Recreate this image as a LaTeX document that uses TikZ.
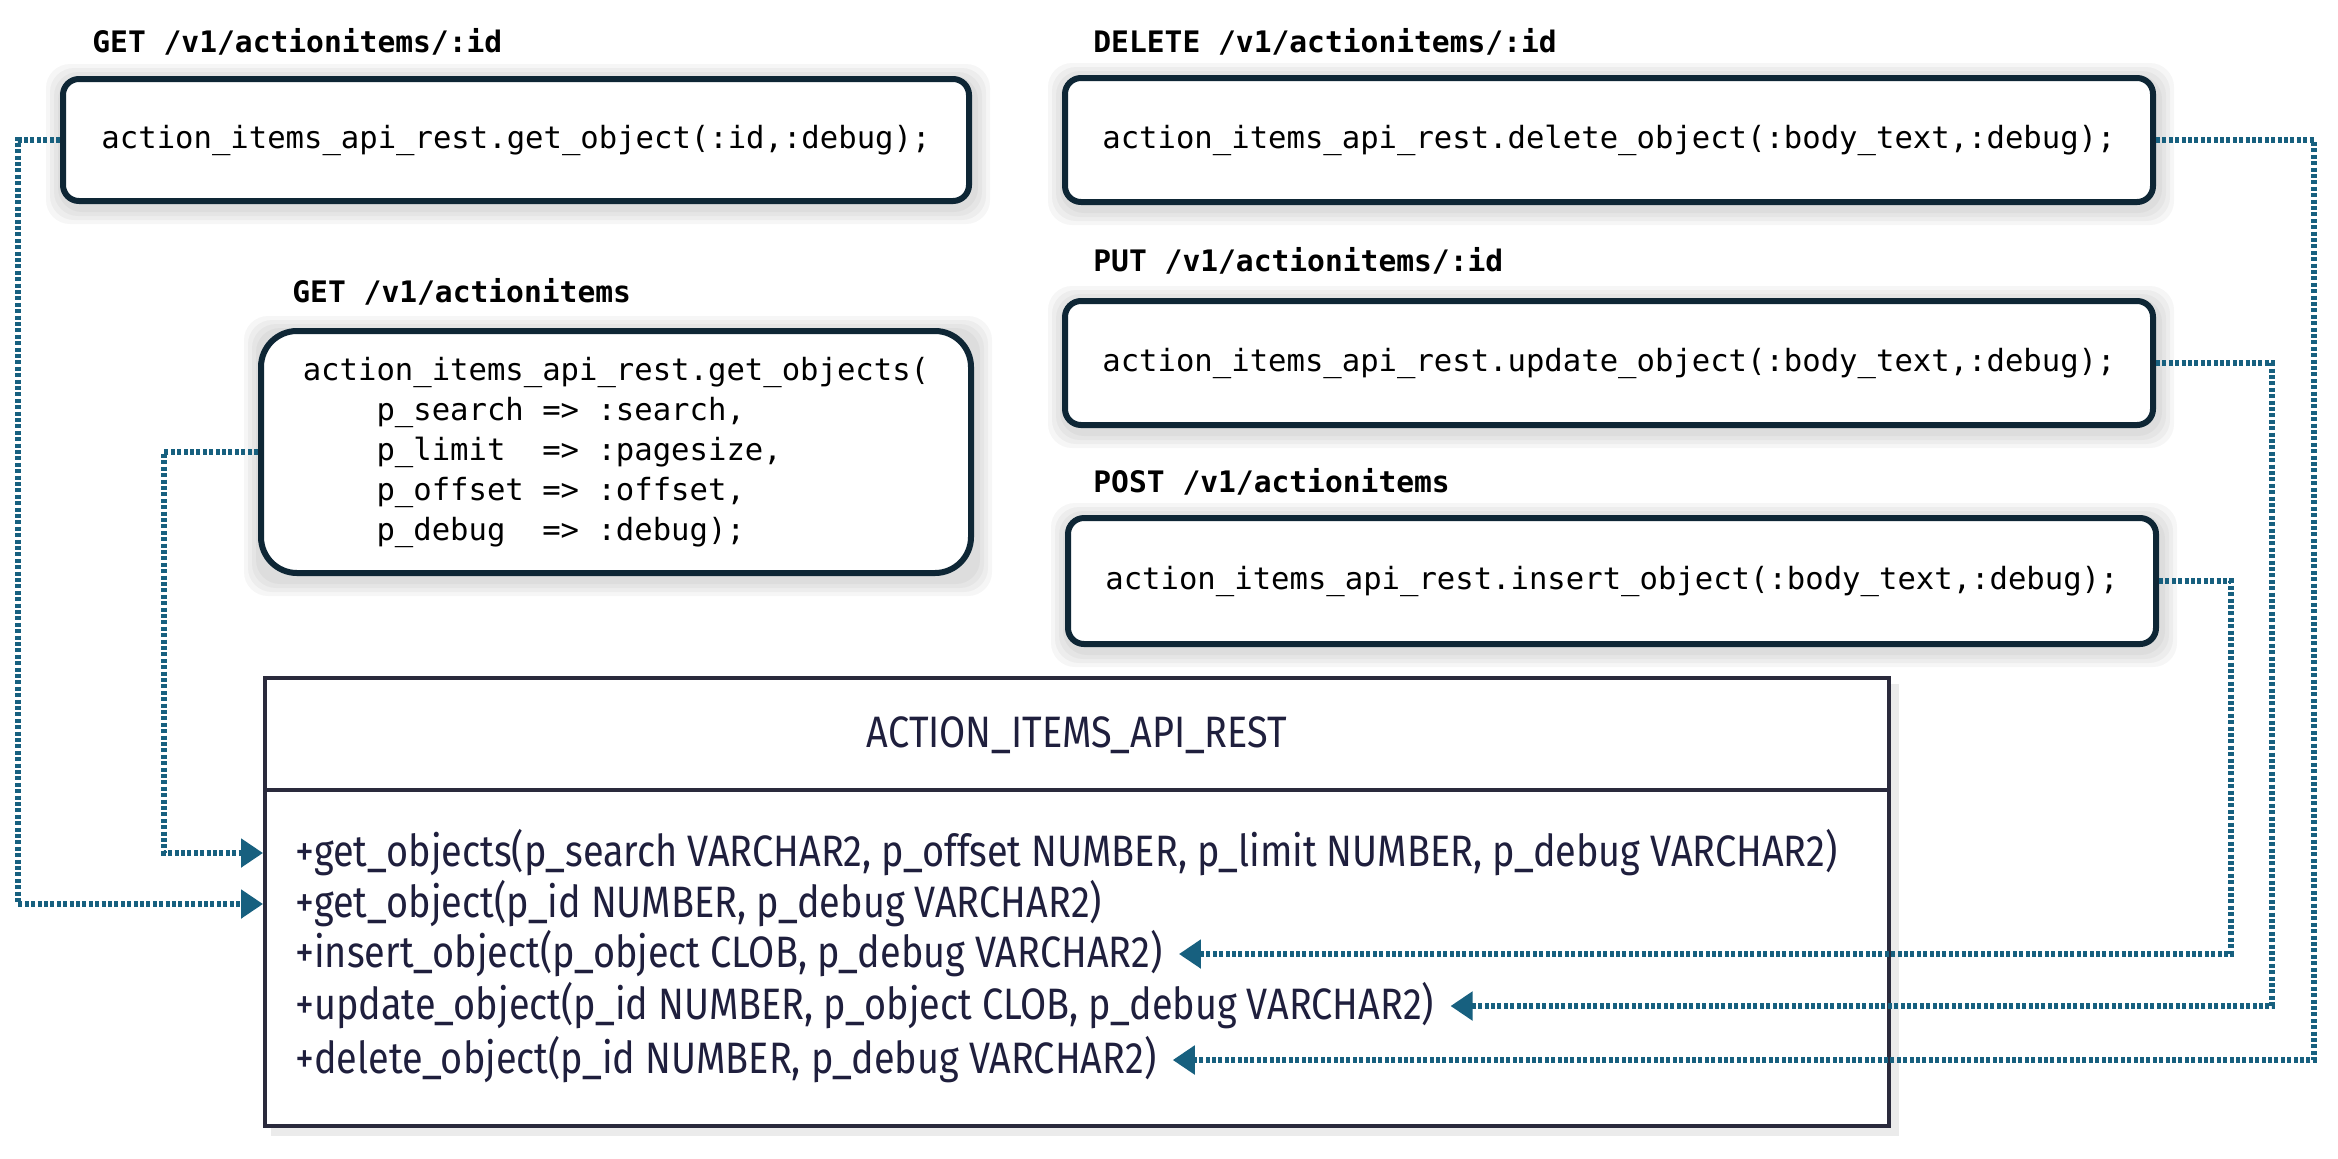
\documentclass[tikz,border=0pt]{standalone}
\usepackage{fontspec}
\setmonofont{DejaVu Sans Mono}
\newfontfamily\condsans[FakeStretch=0.86]{Fira Sans}
\usetikzlibrary{arrows.meta,backgrounds}
\definecolor{conn}{HTML}{17607F}
\definecolor{boxline}{HTML}{0E2635}
\definecolor{clsline}{HTML}{2A2A3C}
\definecolor{clstext}{HTML}{1F1F3D}
\tikzset{
  codebox/.style={draw=boxline, line width=3pt, rounded corners=8pt, fill=white,
    font=\ttfamily\fontsize{15.3}{20}\selectfont, align=left, inner sep=0pt},
  routelabel/.style={anchor=west, font=\ttfamily\bfseries\fontsize{14.8}{18}\selectfont, inner sep=0pt},
  method/.style={anchor=west, inner sep=0pt, font=\condsans\fontsize{22}{26}\selectfont, text=clstext},
  link/.style={draw=conn, line width=2.6pt, dash pattern=on 2pt off 1.2pt,
    -{Triangle[length=11pt,width=14pt]}},
}
\begin{document}
\begin{tikzpicture}[x=0.5pt,y=-0.5pt]
\useasboundingbox (0,0) rectangle (2338,1158);
% route labels
\node[routelabel] (getonelbl) at (92,42) {GET /v1/actionitems/:id};
\node[routelabel] (getmanylbl) at (292,292) {GET /v1/actionitems};
\node[routelabel] (dellbl) at (1093,42) {DELETE /v1/actionitems/:id};
\node[routelabel] (updlbl) at (1093,261) {PUT /v1/actionitems/:id};
\node[routelabel] (inslbl) at (1093,482) {POST /v1/actionitems};
% code boxes
\node[codebox, minimum width=453pt, minimum height=61pt] (getone) at (516,140)
  {action\_items\_api\_rest.get\_object(:id,:debug);};
\node[codebox, rounded corners=18pt, minimum width=355pt, minimum height=121pt] (getmany) at (616,452)
  {action\_items\_api\_rest.get\_objects(\\
   \hphantom{xxxx}p\_search => :search,\\
   \hphantom{xxxx}p\_limit\hphantom{x}\ => :pagesize,\\
   \hphantom{xxxx}p\_offset => :offset,\\
   \hphantom{xxxx}p\_debug\hphantom{x}\ => :debug);};
\node[codebox, minimum width=544pt, minimum height=62pt] (del) at (1609,140)
  {action\_items\_api\_rest.delete\_object(:body\_text,:debug);};
\node[codebox, minimum width=544pt, minimum height=62pt] (upd) at (1609,363)
  {action\_items\_api\_rest.update\_object(:body\_text,:debug);};
\node[codebox, minimum width=544pt, minimum height=63pt] (ins) at (1612,581)
  {action\_items\_api\_rest.insert\_object(:body\_text,:debug);};
% class box
\node[draw=clsline, line width=2pt, fill=white, minimum width=812pt, minimum height=224pt, inner sep=0pt] (cls) at (1077,902) {};
\coordinate (divy) at (0,790);
\draw[clsline, line width=2pt] (cls.west |- divy) -- (cls.east |- divy);
\node[method, anchor=center] (clstitle) at (1077,735) {ACTION\_ITEMS\_API\_REST};
\node[method] (m1) at (295,853) {+get\_objects(p\_search VARCHAR2, p\_offset NUMBER, p\_limit NUMBER, p\_debug VARCHAR2)};
\node[method] (m2) at (295,904) {+get\_object(p\_id NUMBER, p\_debug VARCHAR2)};
\node[method] (m3) at (295,954) {+insert\_object(p\_object CLOB, p\_debug VARCHAR2)};
\node[method] (m4) at (295,1006) {+update\_object(p\_id NUMBER, p\_object CLOB, p\_debug VARCHAR2)};
\node[method] (m5) at (295,1060) {+delete\_object(p\_id NUMBER, p\_debug VARCHAR2)};
% lanes
\coordinate (lanea) at (18,0);
\coordinate (laneb) at (164,0);
\coordinate (lanei) at (2231,0);
\coordinate (laneu) at (2272,0);
\coordinate (laned) at (2314,0);
% connectors
\draw[link] (getone.west) -- (lanea |- getone.west) |- (cls.west |- m2);
\draw[link] (getmany.west) -- (laneb |- getmany.west) |- (cls.west |- m1);
\draw[link] (ins.east) -- (lanei |- ins.east) |- ([xshift=8pt]m3.east);
\draw[link] (upd.east) -- (laneu |- upd.east) |- ([xshift=8pt]m4.east);
\draw[link] (del.east) -- (laned |- del.east) |- ([xshift=8pt]m5.east);
% shadows
\begin{scope}[on background layer]
  \foreach \n in {getone,getmany,del,upd,ins} {
    \foreach \s in {2,4,6,8} {
      \fill[black, opacity=0.035, rounded corners=12pt]
        ([shift={(-\s pt+1pt,\s pt-2pt)}]\n.north west) rectangle ([shift={(\s pt+1pt,-\s pt-2pt)}]\n.south east);
    }
  }
  \fill[black!8] ([shift={(4pt,-4pt)}]cls.north west) rectangle ([shift={(4pt,-4pt)}]cls.south east);
\end{scope}
\end{tikzpicture}
\end{document}
